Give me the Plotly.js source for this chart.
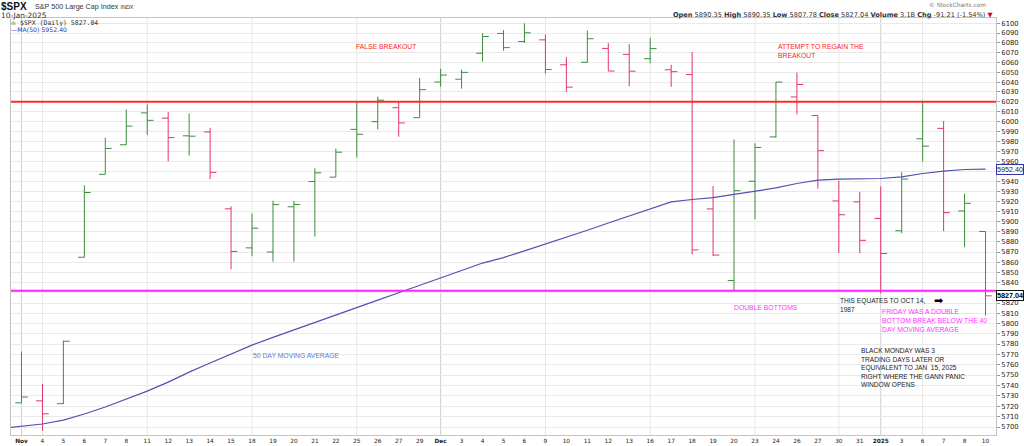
<!DOCTYPE html>
<html><head><meta charset="utf-8">
<script src="https://cdn.plot.ly/plotly-3.0.1.min.js"></script>
<style>html,body{margin:0;padding:0;background:#fff;}#chart{width:1024px;height:446px;}</style>
</head><body><div id="chart"></div>
<script>
// ---- data ----
const dates = ['2024-11-01','2024-11-04','2024-11-05','2024-11-06','2024-11-07','2024-11-08','2024-11-11','2024-11-12','2024-11-13','2024-11-14','2024-11-15','2024-11-18','2024-11-19','2024-11-20','2024-11-21','2024-11-22','2024-11-25','2024-11-26','2024-11-27','2024-11-29','2024-12-02','2024-12-03','2024-12-04','2024-12-05','2024-12-06','2024-12-09','2024-12-10','2024-12-11','2024-12-12','2024-12-13','2024-12-16','2024-12-17','2024-12-18','2024-12-19','2024-12-20','2024-12-23','2024-12-24','2024-12-26','2024-12-27','2024-12-30','2024-12-31','2025-01-02','2025-01-03','2025-01-06','2025-01-07','2025-01-08','2025-01-10'];
const tickLabels = ['<b>Nov</b>','4','5','6','7','8','11','12','13','14','15','18','19','20','21','22','25','26','27','29','<b>Dec</b>','3','4','5','6','9','10','11','12','13','16','17','18','19','20','23','24','26','27','30','31','<b>2025</b>','3','6','7','8','10'];
const openP  = [5723.22,5725.15,5722.43,5864.89,5947.21,5976.76,6008.86,6003.60,5985.75,5989.68,5912.79,5874.17,5870.10,5914.83,5940.00,5944.36,5992.28,6000.03,6014.11,6003.98,6040.11,6042.97,6069.39,6089.58,6081.38,6083.01,6057.59,6060.15,6074.29,6068.17,6063.79,6052.55,6047.65,5912.71,5842.00,5940.25,5984.63,6024.97,6006.17,5920.67,5919.74,5903.26,5891.07,5982.81,5993.26,5910.66,5890.35];
const highP  = [5772.52,5741.43,5783.44,5936.14,5983.84,6012.45,6017.31,6009.92,6008.19,5993.88,5915.28,5908.12,5920.80,5920.67,5953.20,5972.90,6020.75,6025.42,6020.16,6044.17,6053.58,6052.88,6089.84,6093.00,6099.97,6088.51,6065.40,6092.59,6079.68,6078.58,6085.19,6057.68,6070.67,5935.52,5982.06,5978.25,6040.10,6049.75,6006.17,5940.79,5929.74,5935.09,5949.34,6021.04,6000.68,5927.89,5890.35];
const lowP   = [5723.22,5696.51,5722.10,5864.89,5947.21,5976.76,5986.69,5960.08,5965.91,5942.28,5853.01,5865.95,5860.54,5860.58,5885.30,5944.36,5963.91,5992.27,5984.87,6003.98,6035.33,6033.39,6061.06,6072.00,6079.98,6048.63,6029.89,6060.15,6051.25,6035.77,6059.14,6035.19,5867.79,5866.07,5832.30,5902.57,5983.75,6007.37,5932.95,5869.16,5868.86,5829.53,5888.66,5960.01,5890.68,5874.78,5807.78];
const closeP = [5728.80,5712.69,5782.76,5929.04,5973.10,5995.54,6001.35,5983.99,5985.38,5949.17,5870.62,5893.62,5916.98,5917.11,5948.71,5969.34,5987.37,6021.63,5998.74,6032.38,6047.15,6049.88,6086.49,6075.11,6090.27,6052.85,6034.91,6084.19,6051.25,6051.09,6074.08,6050.61,5872.16,5867.08,5930.85,5974.07,6040.04,6037.59,5970.84,5906.94,5881.63,5868.55,5942.47,5975.38,5909.03,5918.25,5827.04];
const priorClose = 5705.45; // 2024-10-31
// MA(50): first value belongs to 2024-10-31 (one day before the first bar)
const ma50 = [5698.5,5700.9,5702.9,5706.7,5712.5,5719.2,5726.9,5734.5,5743.2,5752.8,5761.6,5770.2,5779.0,5786.5,5793.6,5800.9,5808.2,5815.4,5822.8,5830.0,5837.5,5844.5,5851.9,5859.2,5864.6,5871.2,5877.8,5884.4,5891.6,5898.7,5905.8,5913.0,5919.7,5922.1,5923.9,5927.1,5930.4,5933.6,5938.0,5941.3,5942.3,5942.8,5943.0,5944.6,5948.0,5950.3,5952.0,5952.4];
const resistanceLevel = 6020;
const supportLevel = 5832;
const yTickValues = [5700,5710,5720,5730,5740,5750,5760,5770,5780,5790,5800,5810,5820,5830,5840,5850,5860,5870,5880,5890,5900,5910,5920,5930,5940,5950,5960,5970,5980,5990,6000,6010,6020,6030,6040,6050,6060,6070,6080,6090,6100];
const volumeText = '3.1B';

// ---- geometry helpers (plot area in pixels) ----
const PL = 11, PR = 996, PT = 18, PB = 435.3;
const pxX = p => (p - PL) / (PR - PL);
const pxY = p => (PB - p) / (PB - PT);
const xRange = [-0.5, dates.length - 0.5];
const yRange = [Math.log10(5692.4), Math.log10(6105.4)];

const UP = '#3c8c3c', DOWN = '#e2356a';
const idx = dates.map((d, i) => i);
const upIdx = [], dnIdx = [];
closeP.forEach((c, i) => {
  const prev = i === 0 ? priorClose : closeP[i - 1];
  (c > prev ? upIdx : dnIdx).push(i);
});
function ohlcTrace(ids, color) {
  return {
    type: 'ohlc', x: ids,
    open: ids.map(i => openP[i]), high: ids.map(i => highP[i]),
    low: ids.map(i => lowP[i]), close: ids.map(i => closeP[i]),
    increasing: {line: {color: color, width: 1}},
    decreasing: {line: {color: color, width: 1}},
    tickwidth: 0.3, hoverinfo: 'skip', showlegend: false
  };
}

const traces = [
  {type: 'scatter', mode: 'lines', x: ma50.map((v, i) => i - 1), y: ma50,
   line: {color: '#5252b0', width: 1.2}, hoverinfo: 'skip', showlegend: false},
  ohlcTrace(upIdx, UP),
  ohlcTrace(dnIdx, DOWN),
  {type: 'scatter', mode: 'lines', x: xRange, y: [resistanceLevel, resistanceLevel],
   line: {color: '#ff2b2b', width: 2}, hoverinfo: 'skip', showlegend: false},
  {type: 'scatter', mode: 'lines', x: xRange, y: [supportLevel, supportLevel],
   line: {color: '#ff22ff', width: 2}, hoverinfo: 'skip', showlegend: false}
];

// vertical grid: first trading day of each week / month
const shapes = [];
dates.forEach((d, i) => {
  const cur = new Date(d + 'T00:00:00Z');
  let monthStart = true, weekStart = true;
  if (i > 0) {
    const prev = new Date(dates[i - 1] + 'T00:00:00Z');
    monthStart = cur.getUTCMonth() !== prev.getUTCMonth();
    weekStart = cur.getUTCDay() < prev.getUTCDay() || (cur - prev) >= 7 * 864e5;
  }
  if (monthStart || weekStart) {
    shapes.push({type: 'line', xref: 'x', yref: 'paper', x0: i, x1: i, y0: 0, y1: 1,
      layer: 'below', line: {color: monthStart ? '#cfcfcf' : '#e6e6e6', width: 1}});
  }
});

const AF = 'Liberation Sans, Arial, sans-serif';
const VF = 'DejaVu Sans, Verdana, sans-serif';
function note(text, x, y, color, size, extra) {
  return Object.assign({xref: 'paper', yref: 'paper', x: pxX(x), y: pxY(y),
    xanchor: 'left', yanchor: 'middle', align: 'left', showarrow: false,
    borderpad: 0, text: text, font: {family: AF, size: size, color: color}}, extra || {});
}
const last = closeP.length - 1;
const maLast = ma50[ma50.length - 1];
const chg = closeP[last] - closeP[last - 1];
const chgPct = chg / closeP[last - 1] * 100;

// flags on the right axis hide the tick labels they cover
const flagValues = [maLast, closeP[last]];
const yTickText = yTickValues.map(v => flagValues.some(f => Math.abs(f - v) < 5) ? '' : String(v));

const annotations = [
  note('<b>$SPX</b>', 0, 6, '#111', 10, {font: {family: AF, size: 10, color: '#111'}}),
  note('S&P 500 Large Cap Index <span style="font-size:5.5px">INDX</span>', 34, 6, '#333', 7.2, {font: {family: AF, size: 7.2, color: '#333'}}),
  note('10-Jan-2025', 0, 15.5, '#333', 7.4, {font: {family: VF, size: 7.4, color: '#333'}}),
  note('$SPX (Daily) ' + closeP[last].toFixed(2), 19, 23, '#333', 6.5, {font: {family: 'DejaVu Sans Mono, monospace', size: 6.5, color: '#333'}}),
  note('<span style="color:#3c8c3c">ılı</span>', 10, 23, '#3c8c3c', 6),
  note('—MA(50) ' + maLast.toFixed(2), 10, 30, '#3333aa', 6.2, {font: {family: VF, size: 6.2, color: '#3333aa'}}),
  note('© StockCharts.com', 987, 5, '#666', 6, {xanchor: 'right', font: {family: VF, size: 5.8, color: '#777'}}),
  note('<b>Open</b> ' + openP[last].toFixed(2) + ' <b>High</b> ' + highP[last].toFixed(2) +
       ' <b>Low</b> ' + lowP[last].toFixed(2) + ' <b>Close</b> ' + closeP[last].toFixed(2) +
       ' <b>Volume</b> ' + volumeText + ' <b>Chg</b> ' + chg.toFixed(2) + ' (' + chgPct.toFixed(2) + '%) ' +
       '<span style="color:#cc0033">▼</span>', 995, 15, '#333', 7, {xanchor: 'right', font: {family: VF, size: 6.6, color: '#333'}}),
  note('FALSE BREAKOUT', 355, 47, '#ff2020', 6.8),
  note('ATTEMPT TO REGAIN THE<br>BREAKOUT', 777, 51, '#ff2020', 6.8),
  note('50 DAY MOVING AVERAGE', 252, 356, '#5a7fe0', 6.8),
  note('DOUBLE BOTTOMS', 733, 308, '#ff33ff', 6.8),
  note('THIS EQUATES TO OCT 14,<br>1987', 839, 305, '#222', 6.6),
  note('➡', 933, 301, '#000', 11, {font: {family: 'DejaVu Sans', size: 11, color: '#000'}}),
  note('FRIDAY WAS A DOUBLE<br>BOTTOM BREAK BELOW THE 40<br>DAY MOVING AVERAGE', 881, 321, '#ff33ff', 6.8),
  note('BLACK MONDAY WAS 3<br>TRADING DAYS LATER OR<br>EQUIVALENT TO JAN  15, 2025<br>RIGHT WHERE THE GANN PANIC<br>WINDOW OPENS', 860, 368, '#222', 6.6),
  // value flags on right axis
  {xref: 'paper', yref: 'y', x: 1, y: Math.log10(maLast), xanchor: 'left', yanchor: 'middle',
   showarrow: false, text: maLast.toFixed(2), bgcolor: '#fff', bordercolor: '#3333aa', borderwidth: 1, borderpad: 0,
   font: {family: AF, size: 7.2, color: '#222'}},
  {xref: 'paper', yref: 'y', x: 1, y: Math.log10(closeP[last]), xanchor: 'left', yanchor: 'middle',
   showarrow: false, text: '<b>' + closeP[last].toFixed(2) + '</b>', bgcolor: '#fff', bordercolor: '#111', borderwidth: 1, borderpad: 0,
   font: {family: AF, size: 7.2, color: '#000'}}
];

const layout = {
  width: 1024, height: 446,
  margin: {l: PL, r: 1024 - PR, t: PT, b: 446 - PB, pad: 0},
  paper_bgcolor: '#fff', plot_bgcolor: '#fff',
  showlegend: false,
  xaxis: {type: 'linear', range: xRange, tickmode: 'array', tickvals: idx, ticktext: tickLabels,
    showgrid: false, zeroline: false, showline: true, mirror: true, linecolor: '#c4c4c4',
    ticks: '', tickfont: {family: VF, size: 5.8, color: '#222'}, rangeslider: {visible: false}, fixedrange: true},
  yaxis: {type: 'log', side: 'right', range: yRange, tickmode: 'array', tickvals: yTickValues,
    ticktext: yTickText, gridcolor: '#e9e9e9', gridwidth: 1, zeroline: false,
    showline: true, mirror: true, linecolor: '#c4c4c4', ticks: 'outside', ticklen: 3, tickcolor: '#999',
    tickfont: {family: VF, size: 6.8, color: '#222'}, fixedrange: true},
  shapes: shapes,
  annotations: annotations
};

Plotly.newPlot('chart', traces, layout, {displayModeBar: false, staticPlot: true});
</script>
</body></html>
